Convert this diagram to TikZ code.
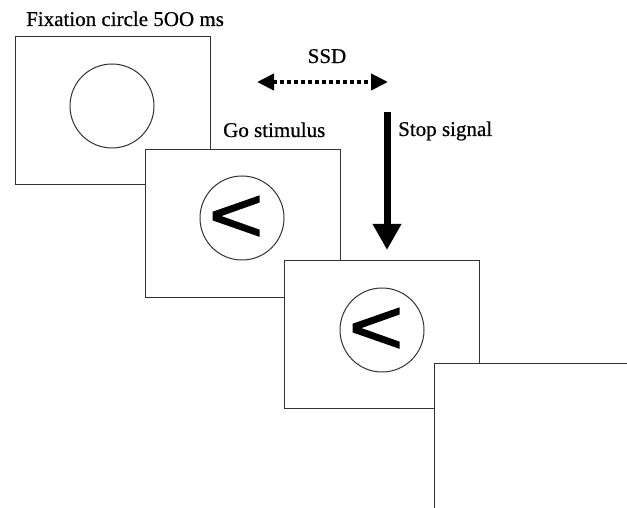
\documentclass[tikz,border=0pt]{standalone}
\usepackage{fontspec}
\setmainfont[FakeBold=0.6]{Liberation Serif}
\newfontfamily\arrowfont[FakeBold=1.6]{Liberation Sans}
\usetikzlibrary{arrows.meta}
\definecolor{frame}{HTML}{333333}
\tikzset{
  screen/.style={draw=frame, line width=1.4bp, fill=white, minimum width=195bp, minimum height=148bp, inner sep=0pt, anchor=north west},
  fixring/.style={draw=frame, line width=1bp, circle, minimum size=84bp, inner sep=0pt},
  label/.style={font=\fontsize{21bp}{24bp}\selectfont, inner sep=0pt},
  cue/.style={font=\arrowfont\fontsize{78bp}{80bp}\selectfont, inner sep=0pt, xscale=1.2},
  ssdarrow/.style={line width=4bp, dash pattern=on 4bp off 3bp, {Triangle[length=17bp,width=16bp]}-{Triangle[length=17bp,width=16bp]}},
  stoparrow/.style={line width=7bp, -{Triangle[length=26bp,width=27bp]}}
}
\begin{document}
\begin{tikzpicture}[x=1bp,y=-1bp]
\clip (0,0) rectangle (627,508);
\fill[white] (0,0) rectangle (627,508);
% screens
\node[screen] (s1) at (15,36) {};
\node[fixring] (c1) at (112,106) {};
\node[screen] (s2) at (145,149) {};
\node[fixring] (c2) at (242,218) {};
\node[cue] (g2) at (236,219) {<};
\node[screen] (s3) at (284,260) {};
\node[fixring] (c3) at (382,330) {};
\node[cue] (g3) at (376,331) {<};
\node[screen] (s4) at (434,363) {};
% labels
\node[label, anchor=base west] (t1) at (26,26) {Fixation circle 5OO ms};
\node[label, anchor=base] (t2) at (327,63) {SSD};
\node[label, anchor=base west] (t3) at (223,137) {Go stimulus};
\node[label, anchor=base west] (t4) at (398,136) {Stop signal};
% arrows
\coordinate (ssdL) at (257,82);
\coordinate (ssdR) at (388,82);
\draw[ssdarrow] (ssdL) -- (ssdR);
\coordinate (stopA) at (387,112);
\coordinate (stopB) at (387,250);
\draw[stoparrow] (stopA) -- (stopB);
\end{tikzpicture}
\end{document}
